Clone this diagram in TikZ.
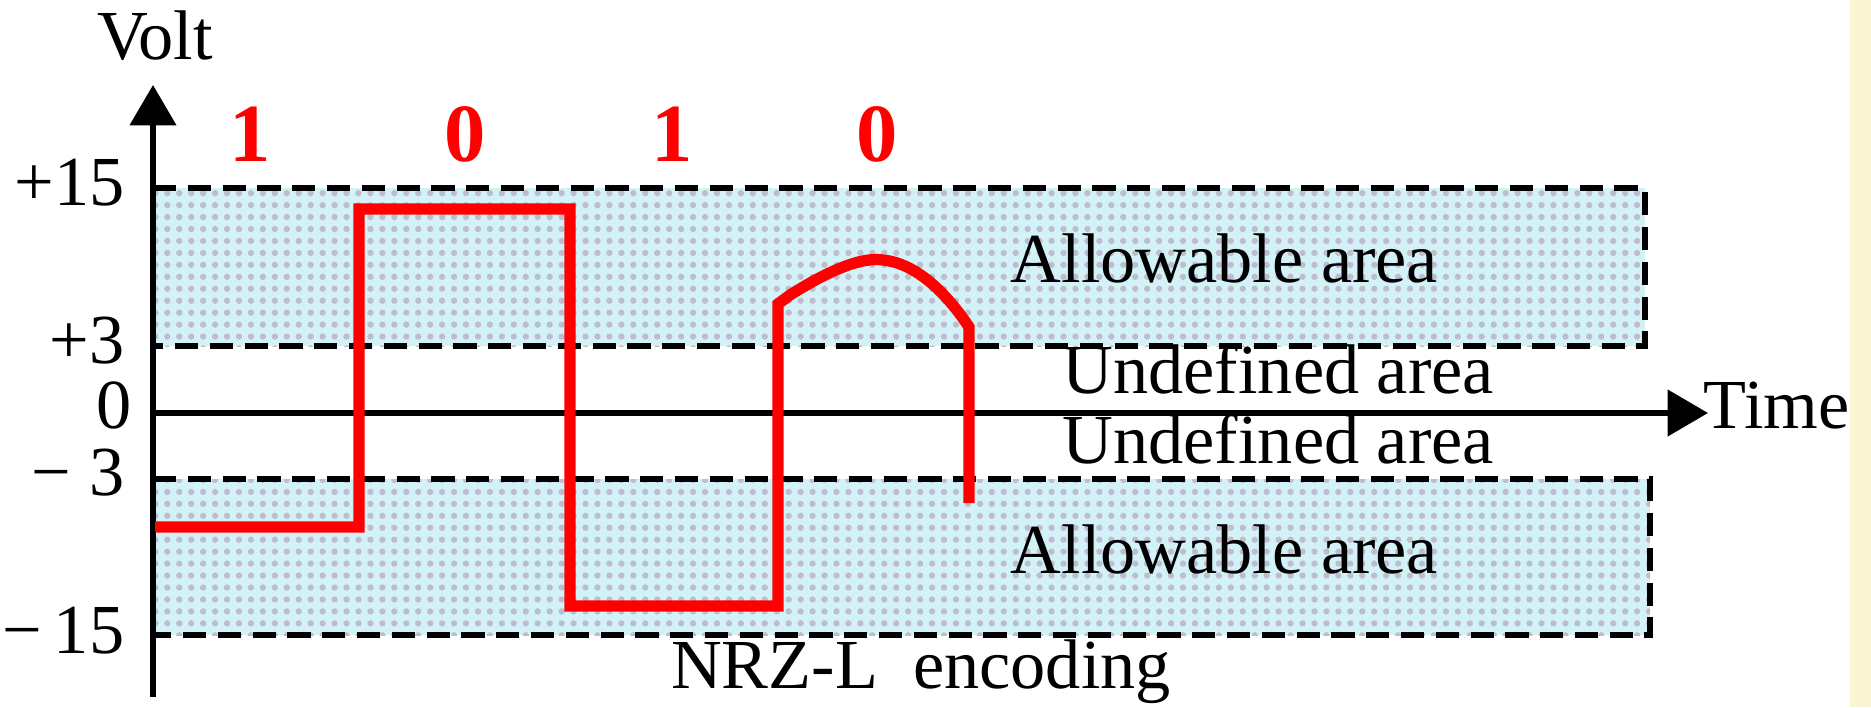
\documentclass[tikz,border=0pt]{standalone}
\usepackage{fontspec}
\setmainfont{Liberation Serif}
\usetikzlibrary{arrows.meta,patterns.meta,positioning}

\definecolor{zonefill}{RGB}{210,242,248}
\definecolor{zonedot}{RGB}{190,188,205}
\definecolor{stripyellow}{RGB}{250,246,212}

\begin{document}
\begin{tikzpicture}[
    axis/.style={line width=1.6pt,-{Triangle[length=11.5pt,width=13pt]}},
    border/.style={line width=1.8pt,dash pattern=on 6.6pt off 3.3pt},
    zone/.style={fill=zonefill,postaction={pattern={Dots[distance=3.4pt,radius=0.9pt]},pattern color=zonedot}},
    signal/.style={red,line width=3.2pt,line join=miter},
    lbl/.style={font=\fontsize{20}{24}\selectfont,inner sep=0pt},
    tick/.style={lbl,anchor=base east},
    bit/.style={inner sep=0pt,anchor=base,text=red,font=\fontsize{23.5}{28}\selectfont\bfseries}
  ]
    \useasboundingbox (-1.53,-2.94) rectangle (17.18,4.13);
    \fill[stripyellow] (16.97,-2.94) rectangle (17.18,4.13);

    \coordinate (origo) at (0,0);
    \coordinate (ytop) at (0,3.28);
    \coordinate (ybot) at (0,-2.84);
    \coordinate (xtip) at (15.55,0);

    % allowable areas
    \path[zone] (0,0.67) rectangle (14.92,2.25);
    \path[zone] (0,-2.22) rectangle (14.97,-0.66);
    \draw[border] (0,2.25) -| (14.92,0.67) -- (0,0.67);
    \draw[border] (0,-0.66) -| (14.97,-2.22) -- (0,-2.22);

    % axes
    \draw[axis] (ybot) -- (ytop);
    \draw[axis] (origo) -- (xtip);
    \node[lbl,anchor=base] (volt) at (0.02,3.53) {Volt};
    \node[lbl,anchor=base west] (time) at (15.50,-0.15) {Time};

    \node[tick] (p15) at (-0.28,2.08) {+15};
    \node[tick] (p3) at (-0.28,0.50) {+3};
    \node[tick] (zero) at (-0.21,-0.15) {0};
    \node[tick] (m3) at (-0.28,-0.82) {− 3};
    \node[tick] (m15) at (-0.28,-2.40) {−\,15};

    % NRZ-L signal
    \draw[signal] (0.02,-1.14) -- (2.06,-1.14) -- (2.06,2.04) -- (4.17,2.04) -- (4.17,-1.93)
      -- (6.25,-1.93) -- (6.25,1.09) -- (6.37,1.18)
      .. controls (6.8,1.45) and (7.1,1.56) .. (7.3,1.53)
      .. controls (7.6,1.50) and (7.9,1.25) .. (8.16,0.86) -- (8.16,-0.90);

    \node[bit] (b1) at (0.97,2.51) {1};
    \node[bit] (b2) at (3.12,2.51) {0};
    \node[bit] (b3) at (5.19,2.51) {1};
    \node[bit] (b4) at (7.24,2.51) {0};

    \node[lbl,anchor=base west] (allowup) at (8.57,1.31) {Allowable area};
    \node[lbl,anchor=base west] (undefup) at (9.09,0.20) {Undefined area};
    \node[lbl,anchor=base west] (undefdn) at (9.09,-0.50) {Undefined area};
    \node[lbl,anchor=base west] (allowdn) at (8.57,-1.60) {Allowable area};
    \node[lbl,anchor=base] (caption) at (7.68,-2.75) {NRZ-L\ \ encoding};
\end{tikzpicture}
\end{document}
